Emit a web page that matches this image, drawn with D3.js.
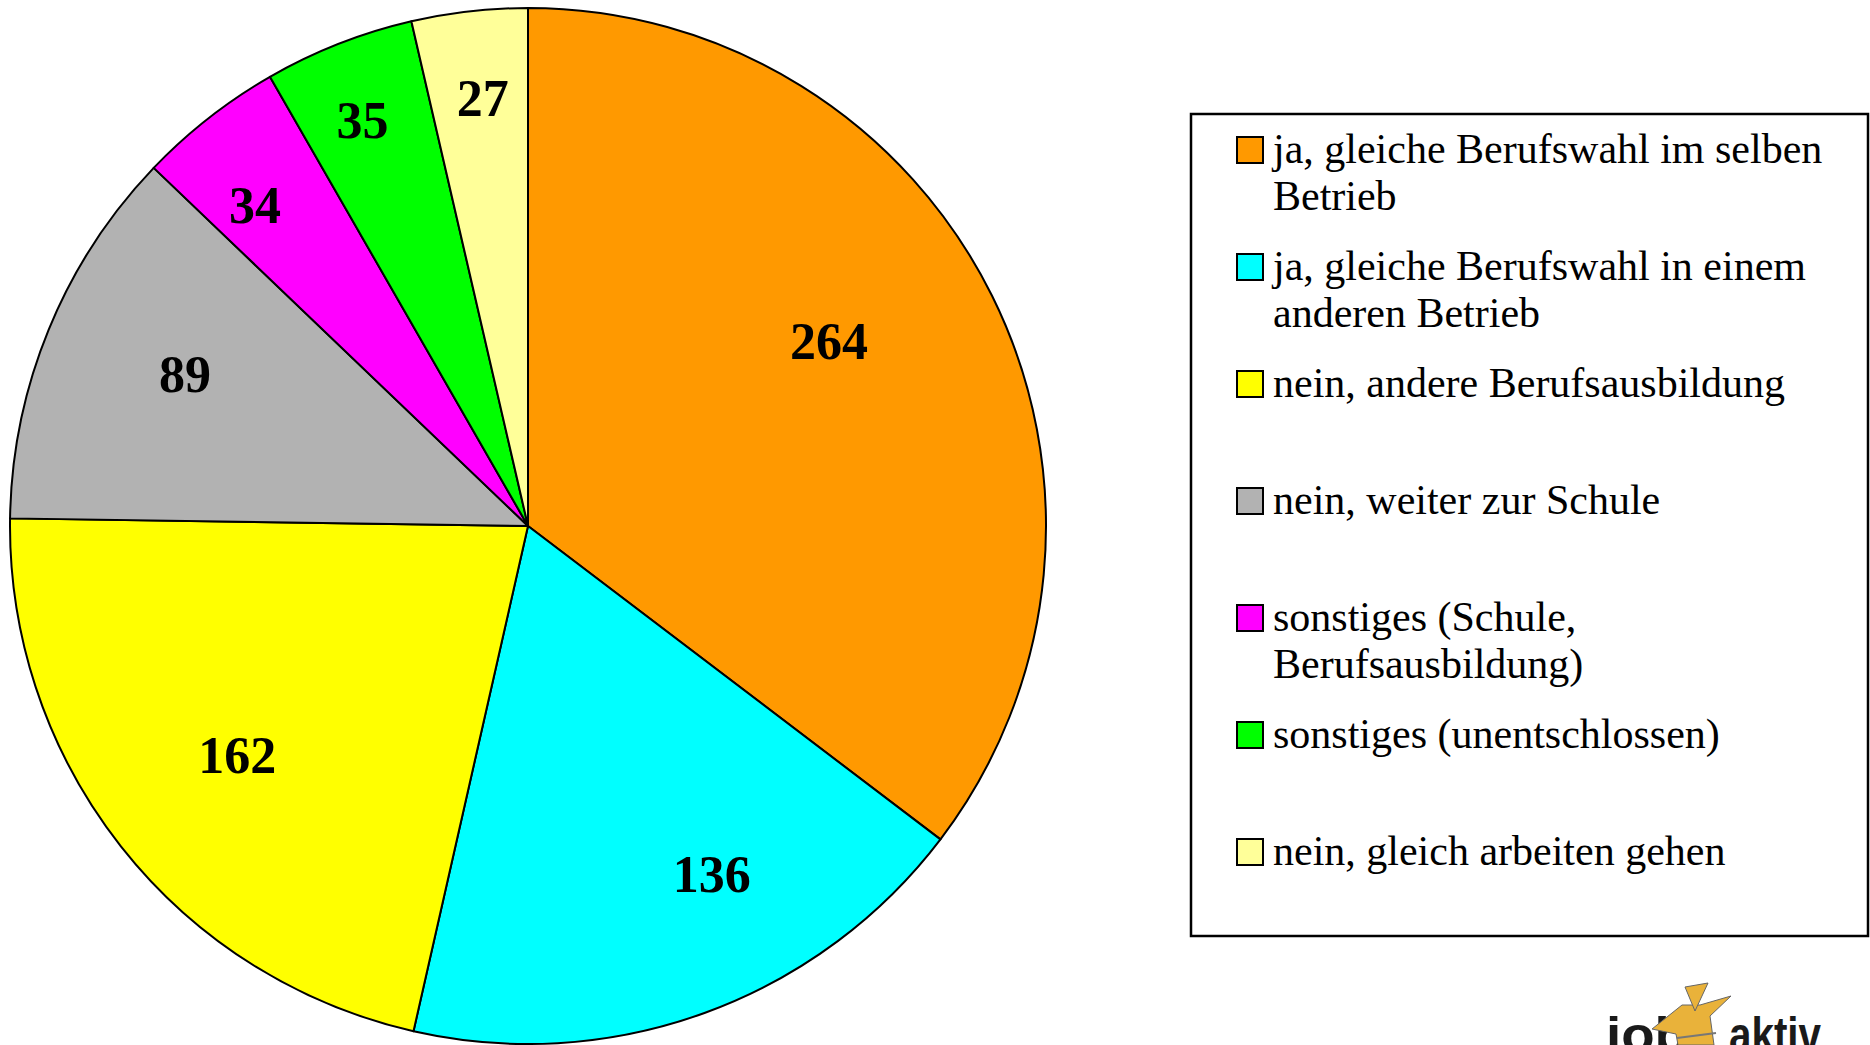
<!DOCTYPE html>
<html>
<head>
<meta charset="utf-8">
<script src="https://cdn.jsdelivr.net/npm/d3@7"></script>
<style>
  body { margin: 0; background: #fff; }
  svg { display: block; }
</style>
</head>
<body>
<div id="chart"></div>
<script>
var width = 1870;
var height = 1045;

// data, clockwise from 12 o'clock
var categories = [
  "ja, gleiche Berufswahl im selben Betrieb",
  "ja, gleiche Berufswahl in einem anderen Betrieb",
  "nein, andere Berufsausbildung",
  "nein, weiter zur Schule",
  "sonstiges (Schule, Berufsausbildung)",
  "sonstiges (unentschlossen)",
  "nein, gleich arbeiten gehen"
];
var values = [264, 136, 162, 89, 34, 35, 27];
var colors = ["#ff9900", "#00ffff", "#ffff00", "#b2b2b2", "#ff00ff", "#00ff00", "#ffff99"];
// legend text broken into lines as in the original
var legendLines = [
  ["ja, gleiche Berufswahl im selben", "Betrieb"],
  ["ja, gleiche Berufswahl in einem", "anderen Betrieb"],
  ["nein, andere Berufsausbildung"],
  ["nein, weiter zur Schule"],
  ["sonstiges (Schule,", "Berufsausbildung)"],
  ["sonstiges (unentschlossen)"],
  ["nein, gleich arbeiten gehen"]
];

// label placement: [radius as share of r, angle shift in degrees]
var labelPlace = [[0.683, -5.3], [0.758, -7.9], [0.714, 0], [0.725, 1.7], [0.815, -2.2], [0.848, -0.7], [0.833, 0.5]];

var cx = 528, cy = 526, r = 518;

var svg = d3.select("#chart")
    .append("svg")
    .attr("width", width)
    .attr("height", height);

var color = d3.scaleOrdinal()
    .domain(categories)
    .range(colors);

var pie = d3.pie()
    .sort(null)
    .value(function(d, i) { return values[i]; });

var arcs = pie(categories);

var arc = d3.arc().innerRadius(0).outerRadius(r);

var g = svg.append("g").attr("transform", "translate(" + cx + "," + cy + ")");

g.selectAll("path.slice")
    .data(arcs)
    .enter().append("path")
      .attr("class", "slice")
      .attr("d", arc)
      .attr("fill", function(d) { return color(d.data); })
      .attr("stroke", "#000")
      .attr("stroke-width", 2)
      .attr("stroke-linejoin", "round");

g.selectAll("text.lbl")
    .data(arcs)
    .enter().append("text")
      .attr("class", "lbl")
      .attr("transform", function(d, i) {
        var p = labelPlace[i];
        var a = (d.startAngle + d.endAngle) / 2 + p[1] * Math.PI / 180;
        var lr = r * p[0];
        return "translate(" + (lr * Math.sin(a)) + "," + (-lr * Math.cos(a)) + ")";
      })
      .attr("text-anchor", "middle")
      .attr("dy", "0.36em")
      .style("font-family", "'Liberation Serif', 'Times New Roman', serif")
      .style("font-weight", "bold")
      .style("font-size", "52px")
      .text(function(d) { return d.value; });

// legend
var lx = 1191, ly = 114, lw = 677, lh = 822;
var legend = svg.append("g");

legend.append("rect")
    .attr("x", lx)
    .attr("y", ly)
    .attr("width", lw)
    .attr("height", lh)
    .attr("fill", "#fff")
    .attr("stroke", "#000")
    .attr("stroke-width", 2.5);

var slot = 117;
var item = legend.selectAll("g.item")
    .data(categories)
    .enter().append("g")
      .attr("class", "item")
      .attr("transform", function(d, i) { return "translate(" + (lx + 46) + "," + (ly + 49 + i * slot) + ")"; });

item.append("rect")
    .attr("x", 0)
    .attr("y", -26)
    .attr("width", 26)
    .attr("height", 26)
    .attr("fill", function(d) { return color(d); })
    .attr("stroke", "#000")
    .attr("stroke-width", 2);

item.append("text")
    .attr("x", 36)
    .attr("y", 0)
    .style("font-family", "'Liberation Serif', 'Times New Roman', serif")
    .style("font-size", "42px")
    .selectAll("tspan")
    .data(function(d, i) { return legendLines[i]; })
    .enter().append("tspan")
      .attr("x", 36)
      .attr("dy", function(d, j) { return j === 0 ? 0 : 47; })
      .text(function(d) { return d; });

// logo in bottom right corner, cut by the page edge
var logo = svg.append("g");
logo.append("text")
    .attr("x", 1606)
    .attr("y", 1052)
    .attr("textLength", 82)
    .attr("lengthAdjust", "spacingAndGlyphs")
    .style("font-family", "'Liberation Sans', Arial, sans-serif")
    .style("font-weight", "bold")
    .style("font-size", "50px")
    .attr("fill", "#1a1a1a")
    .text("job");
logo.append("text")
    .attr("x", 1729)
    .attr("y", 1052)
    .attr("textLength", 92)
    .attr("lengthAdjust", "spacingAndGlyphs")
    .style("font-family", "'Liberation Sans', Arial, sans-serif")
    .style("font-weight", "bold")
    .style("font-size", "50px")
    .attr("fill", "#1a1a1a")
    .text("aktiv");
logo.append("path")
    .attr("d", "M1682,1005 L1700,1005 L1731,996 L1710,1016 L1714,1045 L1678,1045 L1676,1034 L1652,1029 Z")
    .attr("fill", "#e9b23a")
    .attr("stroke", "#666")
    .attr("stroke-width", 1);
logo.append("path")
    .attr("d", "M1685,987 L1708,983 L1695,1011 Z")
    .attr("fill", "#e9b23a")
    .attr("stroke", "#666")
    .attr("stroke-width", 1);
logo.append("path")
    .attr("d", "M1677,1038 L1716,1033")
    .attr("stroke", "#777")
    .attr("stroke-width", 2);
</script>
</body>
</html>
